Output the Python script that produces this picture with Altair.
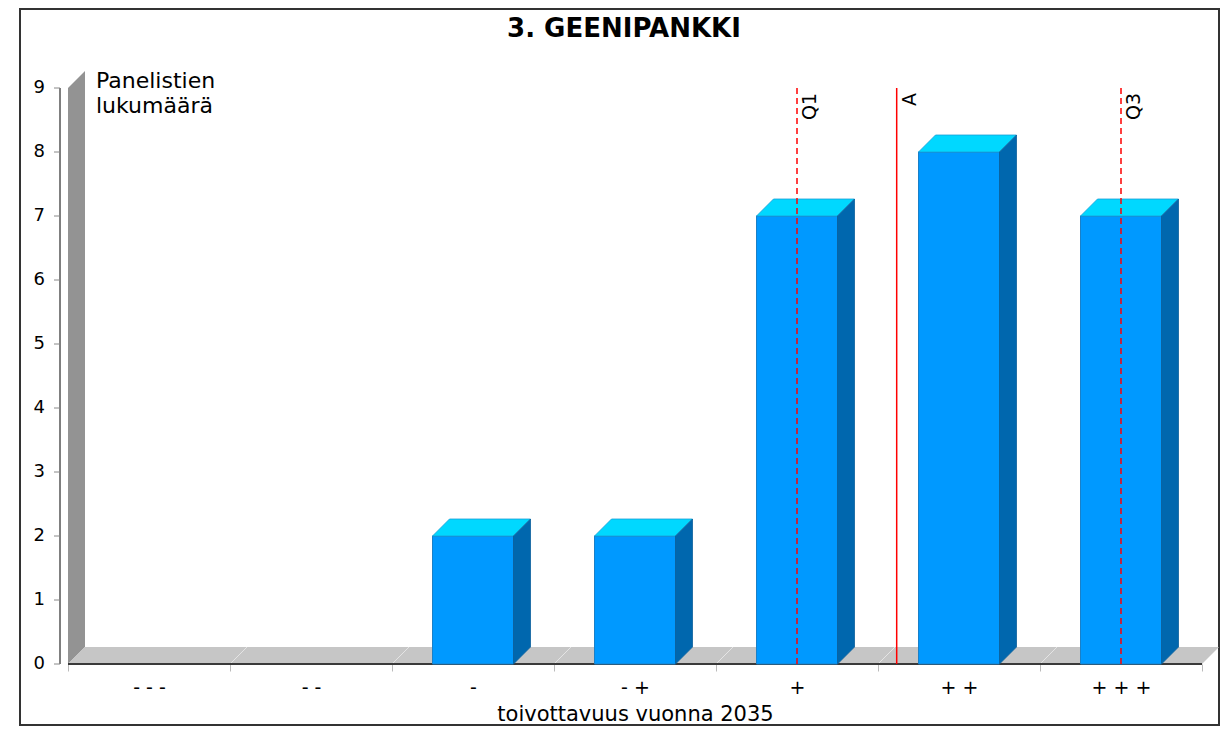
import altair as alt
import pandas as pd

# ---------------- data ----------------
categories = ["- - -", "- -", "-", "- +", "+", "+ +", "+ + +"]
counts = [0, 0, 2, 2, 7, 8, 7]
y_ticks = [0, 1, 2, 3, 4, 5, 6, 7, 8, 9]
stat_names = ["Q1", "A", "Q3"]
q1_score = 5          # "+"
q3_score = 7          # "+ + +"
scores = [1, 2, 3, 4, 5, 6, 7]
mean_score = sum(s * c for s, c in zip(scores, counts)) / sum(counts)
stat_scores = [q1_score, mean_score, q3_score]

title_text = "3. GEENIPANKKI"
x_title = "toivottavuus vuonna 2035"
y_title = "Panelistien\nlukumäärä"

# ---------------- layout / style ----------------
W, H = 1134, 576
NCAT = len(categories)
YMAX = 9
DEPTH_PX = 17
dxu = DEPTH_PX * NCAT / W        # 3-D depth in category units
dyu = DEPTH_PX * YMAX / H        # 3-D depth in count units
BAR_FRAC = 0.5
FONT = "DejaVu Sans"

xs = alt.Scale(domain=[0, NCAT], nice=False, zero=False)
ys = alt.Scale(domain=[0, YMAX], nice=False, zero=True)

x_axis = alt.Axis(
    title=x_title, labelAngle=0, tickBand="extent", domain=False,
    grid=False, tickColor="#bbbbbb", tickSize=7,
    labelFont=FONT, labelFontSize=19, labelPadding=7, labelColor="black",
    titleFont=FONT, titleFontSize=21, titleFontWeight="normal",
    titleColor="black", titleBaseline="alphabetic", titleY=56,
)

# ---------------- derived tables ----------------
bars = [(categories[i], i, counts[i]) for i in range(NCAT) if counts[i] > 0]
front_df = pd.DataFrame({"cat": [b[0] for b in bars], "count": [b[2] for b in bars]})

top_rows, side_rows = [], []
for c, i, v in bars:
    lo = i + (1 - BAR_FRAC) / 2
    hi = i + (1 + BAR_FRAC) / 2
    top_rows.append({"cat": c, "y": v, "x": lo, "x2": hi})
    top_rows.append({"cat": c, "y": v + dyu, "x": lo + dxu, "x2": hi + dxu})
    side_rows.append({"cat": c, "x": hi, "y": 0, "y2": v})
    side_rows.append({"cat": c, "x": hi + dxu, "y": dyu, "y2": v + dyu})
top_df = pd.DataFrame(top_rows)
side_df = pd.DataFrame(side_rows)

wall_df = pd.DataFrame({"x": [0, dxu], "y": [0, dyu], "y2": [YMAX, YMAX + dyu]})
floor_df = pd.DataFrame({"y": [0, dyu], "x": [0, dxu], "x2": [NCAT, NCAT + dxu]})
grid_df = pd.DataFrame({"b": list(range(1, NCAT))})
grid_df["b2"] = grid_df["b"] + dxu
grid_df["y"] = 0.0
grid_df["y2"] = dyu
base_df = pd.DataFrame({"x": [0], "x2": [NCAT], "y": [0]})
ytick_df = pd.DataFrame({"v": y_ticks})
yaxis_df = pd.DataFrame({"y0": [0], "y1": [YMAX]})

stat_df = pd.DataFrame({
    "name": stat_names,
    "pos": [s - 0.5 for s in stat_scores],
    "y0": [0] * 3,
    "y1": [YMAX] * 3,
})

one = pd.DataFrame({"t": [title_text], "yt": [y_title]})

# ---------------- layers ----------------
frame = alt.Chart(one).mark_rect(fillOpacity=0, stroke="#333333", strokeWidth=2).encode(
    x=alt.value(-48), x2=alt.value(1151), y=alt.value(-79), y2=alt.value(637)
)

title = alt.Chart(one).mark_text(
    font=FONT, fontSize=26, fontWeight="bold", color="black",
    align="center", baseline="alphabetic",
).encode(x=alt.value(556), y=alt.value(-51), text="t:N")

y_label = alt.Chart(one).mark_text(
    font=FONT, fontSize=22, color="black", align="left", baseline="alphabetic",
    lineBreak="\n", lineHeight=25,
).encode(x=alt.value(28), y=alt.value(0), text="yt:N")

# y axis (line, ticks, labels) drawn through the y scale
y_domain = alt.Chart(yaxis_df).mark_rule(color="black", strokeWidth=1).encode(
    x=alt.value(-8),
    y=alt.Y("y0:Q", scale=ys, axis=None), y2="y1:Q",
)
y_tickmarks = alt.Chart(ytick_df).mark_rule(color="#888888", strokeWidth=1).encode(
    x=alt.value(-14), x2=alt.value(-8),
    y=alt.Y("v:Q", scale=ys, axis=None),
)
y_ticklabels = alt.Chart(ytick_df).mark_text(
    font=FONT, fontSize=18, color="black", align="right", baseline="middle",
).encode(
    x=alt.value(-23),
    y=alt.Y("v:Q", scale=ys, axis=None),
    text="v:N",
)

wall = alt.Chart(wall_df).mark_area(orient="vertical", color="#939393").encode(
    x=alt.X("x:Q", scale=xs, axis=None),
    y=alt.Y("y:Q", scale=ys, axis=None),
    y2="y2:Q",
)

floor = alt.Chart(floor_df).mark_area(orient="horizontal", color="#c6c6c6").encode(
    y=alt.Y("y:Q", scale=ys, axis=None),
    x=alt.X("x:Q", scale=xs, axis=None),
    x2="x2:Q",
)

floor_grid = alt.Chart(grid_df).mark_rule(color="#e4e4e4", strokeWidth=1).encode(
    x=alt.X("b:Q", scale=xs, axis=None), x2="b2:Q",
    y=alt.Y("y:Q", scale=ys, axis=None), y2="y2:Q",
)

baseline = alt.Chart(base_df).mark_rule(color="#3a3a3a", strokeWidth=2).encode(
    x=alt.X("x:Q", scale=xs, axis=None), x2="x2:Q",
    y=alt.Y("y:Q", scale=ys, axis=None),
)

front = alt.Chart(front_df).mark_bar(
    width=alt.RelativeBandSize(BAR_FRAC), color="#0099ff",
    stroke="#1a80c8", strokeWidth=1,
).encode(
    x=alt.X("cat:N", sort=categories,
            scale=alt.Scale(domain=categories, paddingInner=0, paddingOuter=0),
            axis=x_axis),
    y=alt.Y("count:Q", scale=ys, axis=None),
)

tops = alt.Chart(top_df).mark_area(
    orient="horizontal", color="#00d8ff", stroke="#1a9fd6", strokeWidth=0.8
).encode(
    y=alt.Y("y:Q", scale=ys, axis=None),
    x=alt.X("x:Q", scale=xs, axis=None, stack=None),
    x2="x2:Q",
    detail="cat:N",
)

sides = alt.Chart(side_df).mark_area(
    orient="vertical", color="#0067ae", stroke="#0a5f9c", strokeWidth=0.8
).encode(
    x=alt.X("x:Q", scale=xs, axis=None),
    y=alt.Y("y:Q", scale=ys, axis=None, stack=None),
    y2="y2:Q",
    detail="cat:N",
)

stat_lines = alt.Chart(stat_df).mark_rule(color="#ff0000", strokeWidth=1.5).encode(
    x=alt.X("pos:Q", scale=xs, axis=None),
    y=alt.Y("y0:Q", scale=ys, axis=None), y2="y1:Q",
    strokeDash=alt.StrokeDash("name:N", legend=None, scale=alt.Scale(
        domain=stat_names, range=[[6, 4], [1, 0], [6, 4]])),
)

stat_labels = alt.Chart(stat_df).mark_text(
    angle=270, align="right", baseline="alphabetic", dx=-5, dy=19,
    font=FONT, fontSize=19, color="black",
).encode(
    x=alt.X("pos:Q", scale=xs, axis=None),
    y=alt.Y("y1:Q", scale=ys, axis=None),
    text="name:N",
)

chart = alt.layer(
    frame, title, y_label, y_domain, y_tickmarks, y_ticklabels,
    wall, floor, floor_grid, baseline, front, tops, sides,
    stat_lines, stat_labels
).resolve_scale(
    x="independent"
).properties(
    width=W, height=H,
    background="white",
    autosize=alt.AutoSizeParams(type="none"),
    padding={"left": 60, "top": 80, "right": 19, "bottom": 63},
).configure_view(strokeWidth=0)

chart.save("out.html", embed_options={"renderer": "svg", "actions": False})
